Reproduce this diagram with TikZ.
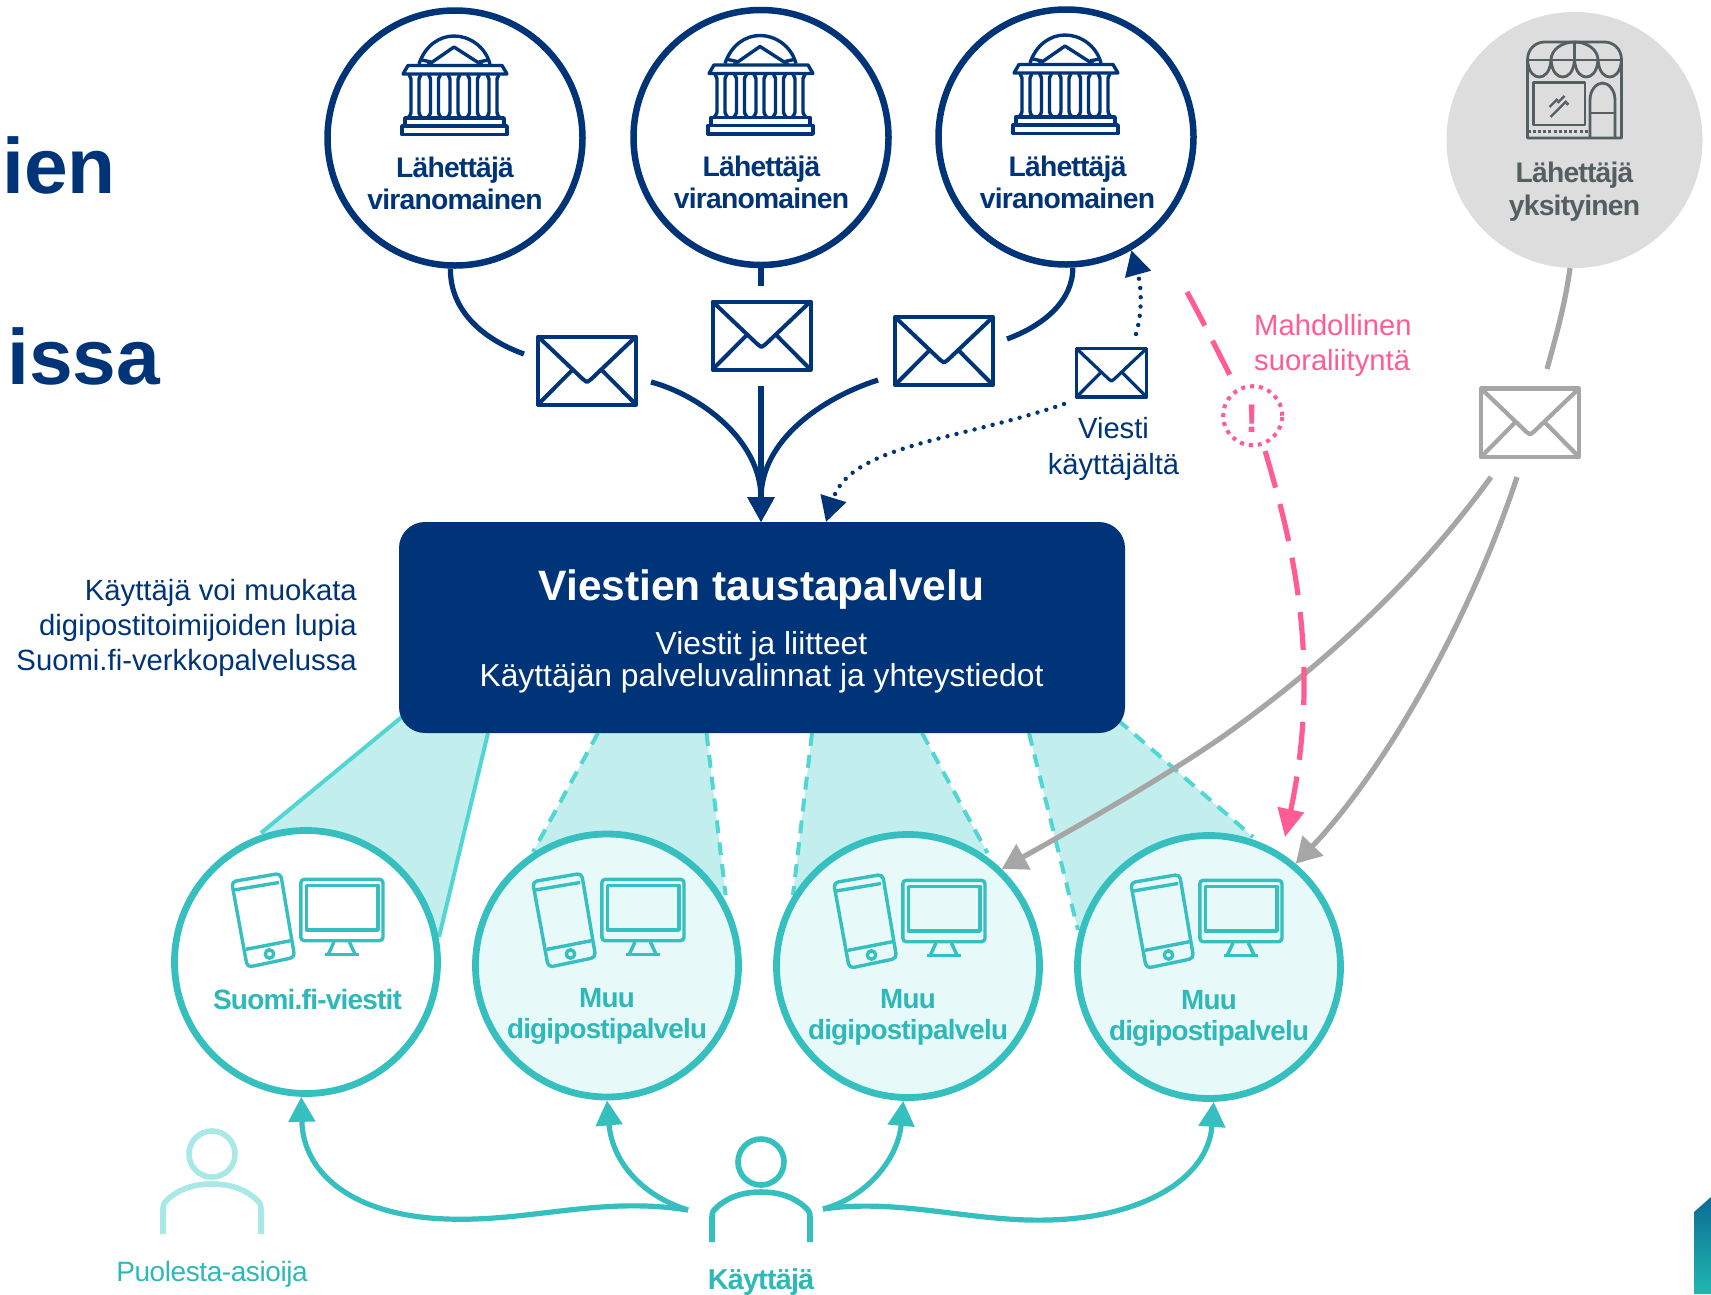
\documentclass[tikz,border=0pt]{standalone}
\usepackage{fontspec}
\setmainfont{Liberation Sans}
\newfontface\tightb{Liberation Sans Bold}[LetterSpace=-2.8]
\newfontface\tightr{Liberation Sans}[LetterSpace=-1.5]
\usetikzlibrary{arrows.meta}
\definecolor{navy}{HTML}{003479}
\definecolor{teal1}{HTML}{35BFBF}
\definecolor{teal2}{HTML}{2EB8B8}
\definecolor{beamfill}{HTML}{C2EFEE}
\definecolor{beamline}{HTML}{52D6D4}
\definecolor{lightfill}{HTML}{E8F9FA}
\definecolor{agent}{HTML}{A8E9E8}
\definecolor{pinkc}{HTML}{FF5C93}
\definecolor{grayline}{HTML}{A6A6A6}
\definecolor{graytext}{HTML}{555F61}
\definecolor{grayfill}{HTML}{DDDDDD}
\definecolor{cornertop}{HTML}{0D6B94}
\definecolor{cornerbot}{HTML}{20B8B0}
\newcommand{\lns}[2]{\begin{tabular}[t]{@{}#1@{}}#2\end{tabular}}
\newcommand{\fs}[2]{\fontsize{#1}{#2}\selectfont}
\tikzset{
 txt/.style={inner sep=0,anchor=base},
 gov/.style={circle,draw=navy,line width=6.5pt,fill=white,minimum size=255pt,inner sep=0},
 priv/.style={circle,fill=grayfill,minimum size=256pt,inner sep=0},
 svc/.style={circle,draw=teal1,line width=6.8pt,fill=#1,minimum size=263pt,inner sep=0},
 beam/.style={draw=none,fill=beamfill},
 beamsolid/.style={beamline,line width=4pt},
 beamdash/.style={beamline,line width=4pt,dash pattern=on 13pt off 9pt},
 navyconn/.style={navy,line width=5.2pt},
 navyarrow/.style={navyconn,-{Triangle[length=25pt,width=26pt]}},
 dotconn/.style={navy,line width=4.4pt,line cap=round,dash pattern=on 0pt off 9.3pt,-{Triangle[length=25pt,width=26pt]}},
 grayconn/.style={grayline,line width=5.2pt},
 grayarrow/.style={grayconn,-{Triangle[length=25pt,width=28pt]}},
 pinkconn/.style={pinkc,line width=5.2pt,dash pattern=on 38pt off 17pt},
 tealarrow/.style={teal1,line width=5.2pt,-{Triangle[length=25pt,width=26pt]}},
 pics/building/.style={code={
  \begin{scope}[navy,line width=3.4pt,line join=round]
   \draw (-36,-74) .. controls (-30,-92) and (-16,-102) .. (-1,-102) .. controls (14,-102) and (30,-92) .. (35,-74);
   \draw (-27,-73) -- (-1,-91) -- (27,-73);
   \draw (-33,-78) -- (-24,-76);\draw (33,-78) -- (24,-76);
   \draw (-52,-64) -- (-47,-72.5) -- (47,-72.5) -- (52,-64) -- cycle;
   \foreach \c in {-40,-20.5,-1,18.5,38}{
    \draw (\c-6,-63) .. controls (\c-4,-60) .. (\c-4,-56) -- (\c-4,-28) .. controls (\c-4,-24) .. (\c-7,-20);
    \draw (\c+6,-63) .. controls (\c+4,-60) .. (\c+4,-56) -- (\c+4,-28) .. controls (\c+4,-24) .. (\c+7,-20);
   }
   \draw (-50,-20) rectangle (49,-12);
   \draw (-53,-12) rectangle (52,-3.5);
  \end{scope}}},
 pics/shop/.style={code={
  \begin{scope}[graytext,line width=2.8pt,line join=round]
   \draw (-47,-2) -- (-47,-80) .. controls (-47,-92) and (-38,-98) .. (-30,-98) -- (30,-98) .. controls (38,-98) and (47,-92) .. (47,-80) -- (47,-2) -- cycle;
   \draw (-47,-80) -- (47,-80);
   \draw (-23.5,-80) .. controls (-23.5,-90) and (-13,-98) .. (0,-98) .. controls (13,-98) and (23.5,-90) .. (23.5,-80);
   \draw (0,-98) -- (0,-80);
   \foreach \c in {-47,-23.5,0,23.5}{
    \draw (\c,-80) .. controls (\c+1,-67) and (\c+7,-63) .. (\c+11.75,-63) .. controls (\c+16.5,-63) and (\c+22.5,-67) .. (\c+23.5,-80);
   }
   \draw (-41,-57.5) rectangle (10.5,-15);
   \draw (15.5,-2) -- (15.5,-40) .. controls (15.5,-50) and (22,-57) .. (28,-57) .. controls (34,-57) and (40.5,-50) .. (40.5,-40) -- (40.5,-2);
   \draw (15.5,-27) -- (40.5,-27);
   \draw[dash pattern=on 3pt off 2.2pt,line width=3pt] (-47,-9) -- (15.5,-9);
   \draw[line width=2.2pt] (-24,-23) -- (-8,-39) (-25,-33) -- (-17,-41) (-17,-37) -- (-10,-44) (-8,-35) -- (-6,-37);
  \end{scope}}},
 pics/devices/.style={code={
  \begin{scope}[teal1,line width=3.4pt,line join=round]
   \draw[rounded corners=4.5pt] (-74.4,-80.3) -- (-25.4,-88.7) -- (-11.3,-4.7) -- (-58.7,5.3) -- cycle;
   \draw (-72,-72) -- (-27,-79.5);
   \draw (-60,-12.7) -- (-15.5,-21.3);
   \draw (-36.5,-8) circle (4.2pt);
   \draw[rounded corners=3.5pt] (-5.2,-82.7) rectangle (77,-21.3);
   \draw (0.6,-76.5) rectangle (72,-32);
   \draw (28,-20) -- (22.4,-8) (43.4,-20) -- (49,-8);
   \draw (18.6,-7.5) -- (53,-7.5);
  \end{scope}}},
 pics/person/.style={code={
  \begin{scope}[line width=5.6pt]
   \draw (0,0) circle (23pt);
   \draw (-49,80) -- (-49,55) .. controls (-49,50) and (-47,47) .. (-44,45) .. controls (-30,33) and (-15,30) .. (0,30) .. controls (15,30) and (30,33) .. (44,45) .. controls (47,47) and (49,50) .. (49,55) -- (49,80);
  \end{scope}}}
}
% envelope: x1 y1 x2 y2 colour width
\newcommand{\envl}[6]{%
 \begin{scope}[#5,line width=#6,line join=round]
  \draw (#1,#2) rectangle (#3,#4);
  \draw ({#1},{#2}) -- ({#1+0.46*(#3-#1)},{#2+0.63*(#4-#2)}) -- ({#1+0.5*(#3-#1)},{#2+0.67*(#4-#2)}) -- ({#1+0.54*(#3-#1)},{#2+0.63*(#4-#2)}) -- ({#3},{#2});
  \draw ({#1},{#4}) -- ({#1+0.345*(#3-#1)},{#2+0.5*(#4-#2)});
  \draw ({#3},{#4}) -- ({#1+0.655*(#3-#1)},{#2+0.5*(#4-#2)});
 \end{scope}}
\begin{document}
\begin{tikzpicture}[x=1pt,y=-1pt]
\path[use as bounding box,clip] (0,0) rectangle (1711,1294);
\fill[white] (0,0) rectangle (1711,1294);
% corner
\path[top color=cornertop,bottom color=cornerbot] (1694,1212) -- (1711,1197) -- (1711,1294) -- (1694,1294) -- cycle;
% cut-off title
\node[txt,anchor=base west,font=\fs{78.5}{78}\bfseries,text=navy] (t1) at (2,193) {ien};
\node[txt,anchor=base west,font=\fs{78.5}{78}\bfseries,text=navy] (t2) at (7,384) {issa};
% beams
\fill[beam] (403,716) -- (488,733) -- (439,937) -- (261,833) -- cycle;
\fill[beam] (598,733) -- (706.5,733) -- (725.6,895) -- (533,852) -- cycle;
\fill[beam] (812,733) -- (922,733) -- (987.5,853) -- (793,895) -- cycle;
\fill[beam] (1029,733) -- (1118,720) -- (1253,837) -- (1078,930) -- cycle;
\coordinate (a1) at (403,716); \coordinate (a2) at (261,833);
\coordinate (a3) at (488,733); \coordinate (a4) at (439,937);
\coordinate (b1) at (598,733); \coordinate (b2) at (533,852);
\coordinate (b3) at (706.5,733); \coordinate (b4) at (725.6,895);
\coordinate (c1) at (812,733); \coordinate (c2) at (793,895);
\coordinate (c3) at (922,733); \coordinate (c4) at (987.5,853);
\coordinate (d1) at (1029,733); \coordinate (d2) at (1078,930);
\coordinate (d3) at (1118,720); \coordinate (d4) at (1253,837);
\draw[beamsolid] (a1) -- (a2);
\draw[beamsolid] (a3) -- (a4);
\draw[beamdash] (b1) -- (b2);
\draw[beamdash] (b3) -- (b4);
\draw[beamdash] (c1) -- (c2);
\draw[beamdash] (c3) -- (c4);
\draw[beamdash] (d1) -- (d2);
\draw[beamdash] (d3) -- (d4);
% box
\node[fill=navy,rounded corners=26pt,minimum width=726pt,minimum height=211pt,inner sep=0] (box) at (762,627.5) {};
\node[txt,font=\fs{42.5}{42}\bfseries,text=white] (boxt) at (761.5,600) {Viestien taustapalvelu};
\node[txt,font=\fs{31.8}{32},text=white] (boxs) at (761.5,654) {\lns{c}{Viestit ja liitteet\\Käyttäjän palveluvalinnat ja yhteystiedot}};
% left note
\node[txt,font=\fs{29.3}{35},text=navy,anchor=base east] (note) at (357,600) {\lns{r}{Käyttäjä voi muokata\\digipostitoimijoiden lupia\\Suomi.fi-verkkopalvelussa}};
% sender circles
\node[gov] (g1) at (455,138) {};
\node[gov] (g2) at (761,137.5) {};
\node[gov] (g3) at (1066,137) {};
\node[priv] (p) at (1574.5,140) {};
\pic at (455,138) {building};
\pic at (761,137.5) {building};
\pic at (1066,137) {building};
\pic at (1574.5,140) {shop};
\node[txt,font=\fs{28.3}{32}\tightb,text=navy] (g1t) at (455,177) {\lns{c}{Lähettäjä\\viranomainen}};
\node[txt,font=\fs{28.3}{32}\tightb,text=navy] (g2t) at (761.5,176.5) {\lns{c}{Lähettäjä\\viranomainen}};
\node[txt,font=\fs{28.3}{32}\tightb,text=navy] (g3t) at (1067.5,176) {\lns{c}{Lähettäjä\\viranomainen}};
\node[txt,font=\fs{28.3}{33}\tightb,text=graytext] (pt) at (1574.5,182) {\lns{c}{Lähettäjä\\yksityinen}};
% envelopes
\envl{538}{336.5}{636}{404.5}{navy}{4pt}
\envl{712.5}{301.5}{810.5}{369.5}{navy}{4pt}
\envl{895}{317}{993}{385}{navy}{4pt}
\envl{1076.5}{348.5}{1146.5}{397}{navy}{3.2pt}
\envl{1481}{388.5}{1579}{457}{grayline}{4.2pt}
\coordinate (e1l) at (524,354); \coordinate (e1b) at (651,382);
\coordinate (e2t) at (761,286); \coordinate (e2b) at (761,386);
\coordinate (e3r) at (1007,339); \coordinate (e3b) at (878,380);
\coordinate (e4l) at (1064,404); \coordinate (e4t) at (1136,334);
\coordinate (e5t) at (1547,369); \coordinate (e5a) at (1491,477); \coordinate (e5b) at (1517,477);
\coordinate (tipn) at (761,522); \coordinate (tipd) at (826,522);
% navy connectors
\draw[navyconn] (g1.-92) .. controls (450,312) and (485,340) .. (e1l);
\draw[navyconn] (g2.-90) -- (e2t);
\draw[navyconn] (g3.-87) .. controls (1073,300) and (1045,325) .. (e3r);
\draw[navyarrow] (e1b) .. controls (700,395) and (761,440) .. (tipn);
\draw[navyarrow] (e2b) -- (tipn);
\draw[navyarrow] (e3b) .. controls (822,398) and (761,440) .. (tipn);
\draw[dotconn] (e4l) .. controls (960,440) and (850,445) .. (tipd);
\draw[dotconn] (e4t) .. controls (1143,310) and (1141,285) .. (g3.-60);
% small labels
\node[txt,font=\fs{29.2}{36},text=navy] (vk) at (1113.5,438) {\lns{c}{Viesti\hspace{8pt}\\käyttäjältä}};
\node[txt,font=\fs{29.2}{35},text=pinkc,anchor=base west] (ms) at (1254,335) {\lns{l}{Mahdollinen\\suoraliityntä}};
% service circles
\node[svc=white] (s1) at (306,962) {};
\node[svc=lightfill] (s2) at (607,965.5) {};
\node[svc=lightfill] (s3) at (908,966) {};
\node[svc=lightfill] (s4) at (1209,967) {};
\pic at (306,962) {devices};
\pic at (607,962) {devices};
\pic at (908,963) {devices};
\pic at (1205,963) {devices};
\node[txt,font=\fs{28}{31}\tightb,text=teal2] (s1t) at (307.5,1009) {Suomi.fi-viestit};
\node[txt,font=\fs{27.8}{31}\tightb,text=teal2] (s2t) at (607,1007) {\lns{c}{Muu\\digipostipalvelu}};
\node[txt,font=\fs{27.8}{31}\tightb,text=teal2] (s3t) at (908,1008) {\lns{c}{Muu\\digipostipalvelu}};
\node[txt,font=\fs{27.8}{31}\tightb,text=teal2] (s4t) at (1209,1009) {\lns{c}{Muu\\digipostipalvelu}};
% gray connectors
\draw[grayconn] (p.-92) .. controls (1565,305) and (1555,340) .. (e5t);
\draw[grayarrow] (e5a) .. controls (1420,575) and (1330,660) .. (1225,735) .. controls (1160,780) and (1080,825) .. (s3.46);
\draw[grayarrow] (e5b) .. controls (1470,620) and (1385,770) .. (s4.50);
% pink
\node[circle,draw=pinkc,line width=4pt,dash pattern=on 4pt off 5pt,minimum size=59pt,inner sep=0] (warn) at (1252.7,415.7) {};
\node[txt,font=\fs{40}{40}\bfseries,text=pinkc] (warnt) at (1252.5,432) {!};
\coordinate (pstart) at (1187,292);
\coordinate (ptip) at (1285,837);
\draw[pinkconn,shorten >=8pt] (pstart) .. controls (1205,325) and (1222,360) .. (warn.120);
\draw[pinkconn,shorten <=6pt,-{Triangle[length=28pt,width=26pt]}] (warn.-70) .. controls (1285,520) and (1325,650) .. (ptip);
% persons
\pic[color=agent] at (212,1154) {person};
\pic[color=teal1] at (761,1162) {person};
\node[txt,font=\fs{28}{27}\tightr,text=teal2] (pa) at (212,1281) {Puolesta-asioija};
\node[txt,font=\fs{28.8}{27}\tightb,text=teal2] (kt) at (761,1289) {Käyttäjä};
% teal connectors
\coordinate (ul) at (688,1210);
\coordinate (ur) at (823,1209);
\draw[tealarrow] (ul) .. controls (600,1196) and (530,1222) .. (447,1219) .. controls (355,1216) and (303,1175) .. (s1.-92);
\draw[tealarrow] (ul) .. controls (640,1195) and (612,1160) .. (s2.-90);
\draw[tealarrow] (ur) .. controls (865,1198) and (898,1160) .. (s3.-92);
\draw[tealarrow] (ur) .. controls (900,1198) and (970,1222) .. (1048,1220) .. controls (1140,1218) and (1208,1180) .. (s4.-88);
\end{tikzpicture}
\end{document}
